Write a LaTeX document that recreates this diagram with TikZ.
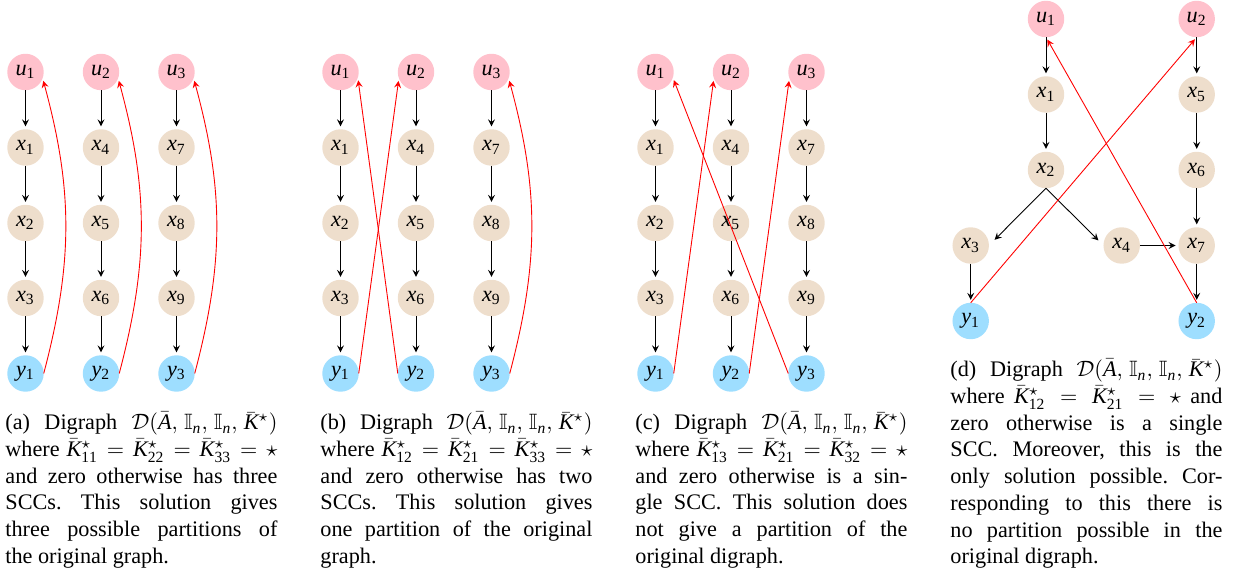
\documentclass[tikz,border=0pt]{standalone}
\usepackage{amssymb}
\usepackage[no-math]{fontspec}
\setmainfont{Liberation Serif}
\DeclareSymbolFont{tmsit}{TU}{\rmdefault}{m}{it}
\DeclareSymbolFont{tmsrm}{TU}{\rmdefault}{m}{n}
\DeclareMathSymbol{u}{\mathalpha}{tmsit}{`u}
\DeclareMathSymbol{x}{\mathalpha}{tmsit}{`x}
\DeclareMathSymbol{y}{\mathalpha}{tmsit}{`y}
\DeclareMathSymbol{n}{\mathalpha}{tmsit}{`n}
\DeclareMathSymbol{A}{\mathalpha}{tmsit}{`A}
\DeclareMathSymbol{K}{\mathalpha}{tmsit}{`K}
\DeclareMathSymbol{0}{\mathalpha}{tmsrm}{`0}
\DeclareMathSymbol{1}{\mathalpha}{tmsrm}{`1}
\DeclareMathSymbol{2}{\mathalpha}{tmsrm}{`2}
\DeclareMathSymbol{3}{\mathalpha}{tmsrm}{`3}
\DeclareMathSymbol{4}{\mathalpha}{tmsrm}{`4}
\DeclareMathSymbol{5}{\mathalpha}{tmsrm}{`5}
\DeclareMathSymbol{6}{\mathalpha}{tmsrm}{`6}
\DeclareMathSymbol{7}{\mathalpha}{tmsrm}{`7}
\DeclareMathSymbol{8}{\mathalpha}{tmsrm}{`8}
\DeclareMathSymbol{9}{\mathalpha}{tmsrm}{`9}
\usetikzlibrary{arrows.meta}
\definecolor{ucol}{RGB}{255,193,204}
\definecolor{xcol}{RGB}{238,222,204}
\definecolor{ycol}{RGB}{158,222,255}
\newcommand{\dg}{Digraph $\mathcal{D}(\bar{A},\mkern2mu\mathbb{I}_n,\mkern2mu\mathbb{I}_n,\mkern2mu\bar{K}^{\star})$}
\newcommand{\kk}[1]{\bar{K}^{\star}_{#1}}
\begin{document}
\frenchspacing
\begin{tikzpicture}[x=0.45pt,y=0.45pt,
  vtx/.style={circle,minimum size=16.4pt,inner sep=0pt,outer sep=0pt},
  unode/.style={vtx,fill=ucol},
  xnode/.style={vtx,fill=xcol},
  ynode/.style={vtx,fill=ycol},
  arr/.style={-stealth,shorten >=1.3pt},
  rarr/.style={-stealth,red,shorten >=1.2pt},
  captxt/.style={anchor=base west,inner sep=0pt}]
\useasboundingbox (0,0) rectangle (1234,-574);
% panels a, b, c
\foreach \P/\o in {a/0,b/315,c/630}{
  \foreach \c/\cx in {1/25.5,2/101,3/176.5}{
    \pgfmathtruncatemacro{\ka}{3*\c-2}
    \pgfmathtruncatemacro{\kb}{3*\c-1}
    \pgfmathtruncatemacro{\kc}{3*\c}
    \node[unode] (\P u\c) at (\o+\cx,-72) {$u_{\c}$};
    \node[xnode] (\P x\ka) at (\o+\cx,-147.5) {$x_{\ka}$};
    \node[xnode] (\P x\kb) at (\o+\cx,-223) {$x_{\kb}$};
    \node[xnode] (\P x\kc) at (\o+\cx,-298) {$x_{\kc}$};
    \node[ynode] (\P y\c) at (\o+\cx,-373.5) {$y_{\c}$};
    \draw[arr] (\P u\c) -- (\P x\ka);
    \draw[arr] (\P x\ka) -- (\P x\kb);
    \draw[arr] (\P x\kb) -- (\P x\kc);
    \draw[arr] (\P x\kc) -- (\P y\c);
  }
}
% red edges (a)
\draw[rarr] (ay1.east) to[bend right=15] (au1.-20);
\draw[rarr] (ay2.east) to[bend right=15] (au2.-20);
\draw[rarr] (ay3.east) to[bend right=15] (au3.-20);
% red edges (b)
\draw[rarr] (by1.east) -- (bu2.200);
\draw[rarr] (by2.west) -- (bu1.-18);
\draw[rarr] (by3.east) to[bend right=15] (bu3.-20);
% red edges (c)
\draw[rarr] (cy1.east) -- (cu2.200);
\draw[rarr] (cy2.east) -- (cu3.200);
\draw[rarr] (cy3.west) -- (cu1.-18);
% panel d
\node[unode] (du1) at (1046,-19) {$u_{1}$};
\node[xnode] (dx1) at (1046,-94.5) {$x_{1}$};
\node[xnode] (dx2) at (1046,-170) {$x_{2}$};
\node[xnode] (dx3) at (970.7,-245.5) {$x_{3}$};
\node[xnode] (dx4) at (1121.7,-245.5) {$x_{4}$};
\node[ynode] (dy1) at (970.7,-321) {$y_{1}$};
\node[unode] (du2) at (1196.7,-19) {$u_{2}$};
\node[xnode] (dx5) at (1196.7,-94.5) {$x_{5}$};
\node[xnode] (dx6) at (1196.7,-170) {$x_{6}$};
\node[xnode] (dx7) at (1196.7,-245.5) {$x_{7}$};
\node[ynode] (dy2) at (1196.7,-321) {$y_{2}$};
\draw[arr] (du1) -- (dx1);
\draw[arr] (dx1) -- (dx2);
\draw[arr,shorten >=3.6pt] (dx2.south) -- (dx3.east);
\draw[arr,shorten >=3.2pt] (dx2.south) -- (dx4.west);
\draw[arr] (dx3) -- (dy1);
\draw[arr] (dx4) -- (dx7);
\draw[arr] (du2) -- (dx5);
\draw[arr] (dx5) -- (dx6);
\draw[arr] (dx6) -- (dx7);
\draw[arr] (dx7) -- (dy2);
\draw[rarr] (dy1.north) -- (du2.south);
\draw[rarr] (dy2.north) -- (du1.south);
% captions
\node[captxt] (capa) at (5,-430) {\parbox[t]{122.4pt}{(a) \dg\linebreak
where $\kk{11}=\kk{22}=\kk{33}=\star$\linebreak
and zero otherwise has three\linebreak
SCCs. This solution gives\linebreak
three possible partitions of\linebreak
the original graph.}};
\node[captxt] (capb) at (320,-430) {\parbox[t]{122.4pt}{(b) \dg\linebreak
where $\kk{12}=\kk{21}=\kk{33}=\star$\linebreak
and zero otherwise has two\linebreak
SCCs. This solution gives\linebreak
one partition of the original\linebreak
graph.}};
\node[captxt] (capc) at (635,-430) {\parbox[t]{122.4pt}{(c) \dg\linebreak
where $\kk{13}=\kk{21}=\kk{32}=\star$\linebreak
and zero otherwise is a sin-\linebreak
gle SCC. This solution does\linebreak
not give a partition of the\linebreak
original digraph.}};
\node[captxt] (capd) at (950,-377) {\parbox[t]{122.4pt}{(d) \dg\linebreak
where $\kk{12}=\kk{21}=\star$ and\linebreak
zero otherwise is a single\linebreak
SCC. Moreover, this is the\linebreak
only solution possible. Cor-\linebreak
responding to this there is\linebreak
no partition possible in the\linebreak
original digraph.}};
\end{tikzpicture}
\end{document}
